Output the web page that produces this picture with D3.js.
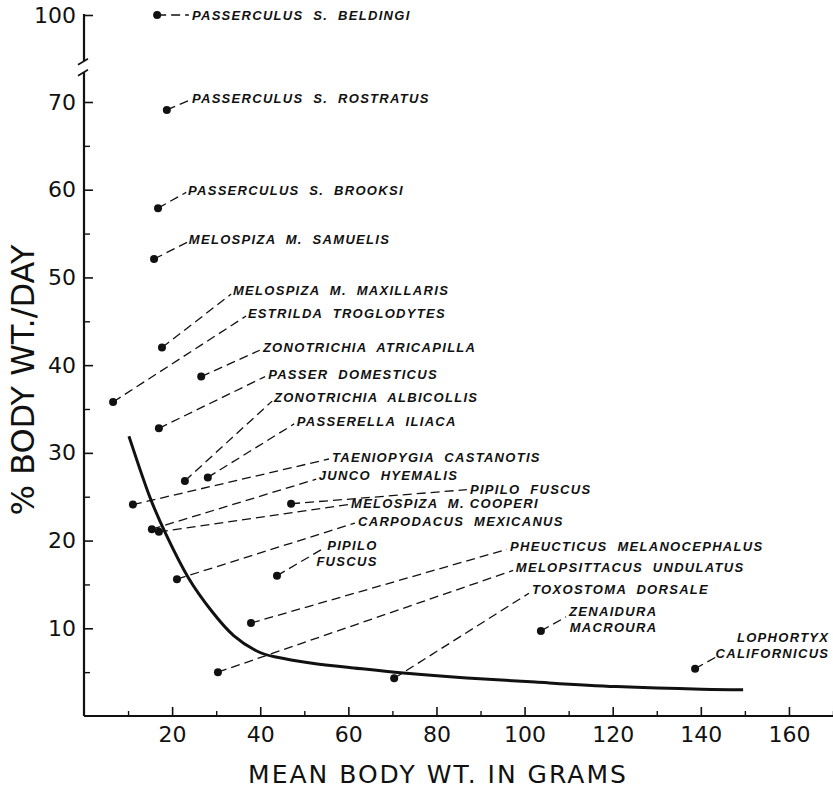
<!DOCTYPE html>
<html>
<head>
<meta charset="utf-8">
<script src="https://cdn.jsdelivr.net/npm/d3@7"></script>
<style>
  body { margin: 0; background: #fff; }
  svg { display: block; }
</style>
</head>
<body>
<script>
// species names, two-line labels split with \n
const species = [
  'PASSERCULUS  S.  BELDINGI', 'PASSERCULUS  S.  ROSTRATUS', 'PASSERCULUS  S.  BROOKSI',
  'MELOSPIZA  M.  SAMUELIS', 'MELOSPIZA  M.  MAXILLARIS', 'ESTRILDA  TROGLODYTES',
  'ZONOTRICHIA  ATRICAPILLA', 'PASSER  DOMESTICUS', 'ZONOTRICHIA  ALBICOLLIS',
  'PASSERELLA  ILIACA', 'TAENIOPYGIA  CASTANOTIS', 'JUNCO  HYEMALIS', 'PIPILO  FUSCUS',
  'MELOSPIZA  M. COOPERI', 'CARPODACUS  MEXICANUS', 'PIPILO\nFUSCUS',
  'PHEUCTICUS  MELANOCEPHALUS', 'MELOPSITTACUS  UNDULATUS', 'TOXOSTOMA  DORSALE',
  'ZENAIDURA\nMACROURA', 'LOPHORTYX\nCALIFORNICUS'
]
// mean body weight (g) and % body wt per day
const bodyWt = [16.6, 18.8, 16.8, 15.9, 17.7, 6.6, 26.6, 17.0, 22.9, 28.1, 11.1, 15.4, 47.0,
  17.0, 21.1, 43.8, 37.9, 30.4, 70.4, 103.7, 138.7]
const pctDay = [100, 69.1, 57.9, 52.1, 42.0, 35.8, 38.7, 32.8, 26.8, 27.2, 24.1, 21.3, 24.2,
  21.0, 15.6, 16.0, 10.6, 5.0, 4.3, 9.7, 5.4]

// where each label starts (data units) and where its dashed leader ends
const labelWt = [24.5, 24.5, 23.6, 23.8, 33.8, 37.2, 40.6, 41.8, 43.1, 48.3, 56.3, 53.3, 87.6,
  60.6, 62.2, 55.2, 96.7, 98.0, 101.7, 110.1, 148.2]
const labelPct = [100, 71.4, 60.0, 54.4, 48.5, 45.9, 42.1, 39.0, 36.4, 33.6, 29.5, 27.4, 25.9,
  24.3, 22.2, 19.5, 19.4, 17.0, 14.4, 11.9, 9.0]
const leadWt = [23.8, 24.1, 23.2, 23.4, 33.4, 36.8, 39.9, 41.1, 42.7, 47.7, 55.6, 52.7, 86.9,
  59.9, 61.5, 54.0, 96.0, 97.4, 101.0, 109.4, 143.4]
const leadPct = [100, 70.7, 59.7, 54.0, 48.1, 45.6, 41.7, 38.7, 35.9, 33.3, 29.3, 27.0, 25.8,
  24.1, 22.0, 19.0, 19.0, 16.6, 14.0, 11.3, 6.7]

// fitted curve
const curveWt = [10.2, 15.0, 18.4, 23.6, 29.3, 33.8, 39.3, 42.2, 51.3, 61.1, 71.7, 86.9, 101.9, 120.1, 142.8, 149.6]
const curvePct = [31.9, 24.6, 20.9, 15.5, 11.7, 9.0, 7.3, 6.8, 6.0, 5.5, 4.9, 4.3, 3.9, 3.3, 3.0, 3.0]

const xMajor = [20, 40, 60, 80, 100, 120, 140, 160]
const xMinor = [10, 30, 50, 70, 90, 110, 130, 150, 170]
const yMajor = [10, 20, 30, 40, 50, 60, 70, 100]
const yMinor = [5, 15, 25, 35, 45, 55, 65]

const margin = {top: 15, right: 0, bottom: 74, left: 84}
const width = 833 - margin.left - margin.right
const height = 790 - margin.top - margin.bottom

const svg = d3.select('body').append('svg')
  .attr('width', 833)
  .attr('height', 790)

const g = svg.append('g')
  .attr('transform', `translate(${margin.left},${margin.top})`)

const xScale = d3.scaleLinear().domain([0, 170]).range([0, width])
// broken axis: 70 -> 100 squeezed into the top
const yScale = d3.scaleLinear().domain([0, 70, 100]).range([height, 87, 0])

const ink = '#111'
const tickFont = '"DejaVu Sans", sans-serif'

// x axis, ticks pointing up
const xAxis = g.append('g').attr('transform', `translate(0,${height})`)
  .call(d3.axisBottom(xScale).tickValues(xMajor).tickSize(-9).tickSizeOuter(0).tickPadding(10))
xAxis.select('.domain').remove()
xAxis.selectAll('line').attr('stroke', ink).attr('stroke-width', 1.6)
xAxis.selectAll('text').attr('font-family', tickFont).attr('font-size', 22).attr('fill', ink)

const xAxisMinor = g.append('g').attr('transform', `translate(0,${height})`)
  .call(d3.axisBottom(xScale).tickValues(xMinor).tickSize(-5).tickFormat(''))
xAxisMinor.select('.domain').remove()
xAxisMinor.selectAll('line').attr('stroke', ink).attr('stroke-width', 1.4)

g.append('line')
  .attr('x1', 0).attr('x2', width + 5)
  .attr('y1', height).attr('y2', height)
  .attr('stroke', ink).attr('stroke-width', 2.2)

// y axis, ticks pointing right
const yAxis = g.append('g')
  .call(d3.axisLeft(yScale).tickValues(yMajor).tickSize(-9).tickSizeOuter(0).tickPadding(8))
yAxis.select('.domain').remove()
yAxis.selectAll('line').attr('stroke', ink).attr('stroke-width', 1.6)
yAxis.selectAll('text').attr('font-family', tickFont).attr('font-size', 22).attr('fill', ink)

const yAxisMinor = g.append('g')
  .call(d3.axisLeft(yScale).tickValues(yMinor).tickSize(-6).tickFormat(''))
yAxisMinor.select('.domain').remove()
yAxisMinor.selectAll('line').attr('stroke', ink).attr('stroke-width', 1.4)

// axis line with the break between 70 and 100
const breakY = yScale(82)
g.append('line').attr('x1', 0).attr('x2', 0)
  .attr('y1', height).attr('y2', breakY + 5)
  .attr('stroke', ink).attr('stroke-width', 2.2)
g.append('line').attr('x1', 0).attr('x2', 0)
  .attr('y1', breakY - 6).attr('y2', yScale(100) - 1)
  .attr('stroke', ink).attr('stroke-width', 2.2)
;[-5.5, 5.5].forEach(off => {
  g.append('line')
    .attr('x1', -6).attr('x2', 4)
    .attr('y1', breakY + off + 3).attr('y2', breakY + off - 3)
    .attr('stroke', ink).attr('stroke-width', 1.6)
})

// axis titles
svg.append('text')
  .attr('x', 438).attr('y', 783)
  .attr('text-anchor', 'middle')
  .attr('font-family', tickFont).attr('font-size', 25)
  .attr('letter-spacing', 2)
  .attr('fill', ink)
  .text('MEAN BODY WT. IN GRAMS')

svg.append('text')
  .attr('transform', 'translate(34,380) rotate(-90)')
  .attr('text-anchor', 'middle')
  .attr('font-family', tickFont).attr('font-size', 32)
  .attr('fill', ink)
  .text('% BODY WT./DAY')

// fitted curve
const line = d3.line()
  .x((d, i) => xScale(curveWt[i]))
  .y((d, i) => yScale(curvePct[i]))
  .curve(d3.curveBasis)

g.append('path')
  .datum(curveWt)
  .attr('d', line)
  .attr('fill', 'none')
  .attr('stroke', ink)
  .attr('stroke-width', 3)

// leaders
const birds = species.map((name, i) => ({
  name, wt: bodyWt[i], pct: pctDay[i],
  lx: labelWt[i], ly: labelPct[i], ex: leadWt[i], ey: leadPct[i]
}))

g.selectAll('.leader')
  .data(birds)
  .join('line')
  .attr('class', 'leader')
  .attr('x1', d => xScale(d.wt)).attr('y1', d => yScale(d.pct))
  .attr('x2', d => xScale(d.ex)).attr('y2', d => yScale(d.ey))
  .attr('stroke', ink).attr('stroke-width', 1.3)
  .attr('stroke-dasharray', '9,5')

g.selectAll('.dot')
  .data(birds)
  .join('circle')
  .attr('class', 'dot')
  .attr('cx', d => xScale(d.wt))
  .attr('cy', d => yScale(d.pct))
  .attr('r', 4)
  .attr('fill', ink)

// labels
const labels = g.selectAll('.label')
  .data(birds)
  .join('g')
  .attr('class', 'label')
  .attr('transform', d => `translate(${xScale(d.lx)},${yScale(d.ly) + 4.8})`)

labels.each(function(d) {
  const parts = d.name.split('\n')
  const sel = d3.select(this)
  sel.append('text').text(parts[0])
  if (parts.length > 1) {
    sel.append('text').text(parts[1]).attr('y', 16)
  }
})

labels.selectAll('text')
  .attr('font-family', '"Liberation Sans", Arial, sans-serif')
  .attr('font-size', 13)
  .attr('font-weight', 'bold')
  .attr('font-style', 'italic')
  .attr('letter-spacing', 1.3)
  .style('white-space', 'pre')
  .attr('fill', ink)

// second lines of the two-line labels end where the first line ends
labels.each(function() {
  const texts = d3.select(this).selectAll('text')
  if (texts.size() > 1) {
    const w = texts.nodes()[0].getComputedTextLength()
    d3.select(texts.nodes()[1]).attr('x', w).attr('text-anchor', 'end')
  }
})
</script>
</body>
</html>
